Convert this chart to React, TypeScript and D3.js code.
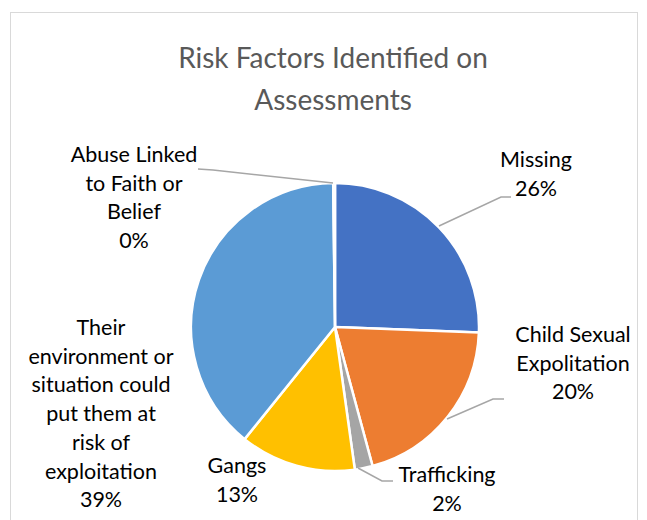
import React, { useEffect, useRef } from 'react';
import * as d3 from 'd3';

// values (share of assessments)
const categories = [
  'Missing',
  'Child Sexual Expolitation',
  'Trafficking',
  'Gangs',
  'Their environment or situation could put them at risk of exploitation',
  'Abuse Linked to Faith or Belief',
];
const values = [25.6, 20.2, 2.0, 13.0, 39.0, 0.2];
const colors = ['#4472C4', '#ED7D31', '#A5A5A5', '#FFC000', '#5B9BD5', '#264478'];

// label text lines (without percent) as they wrap in the original
const labelLines = [
  ['Missing'],
  ['Child Sexual', 'Expolitation'],
  ['Trafficking'],
  ['Gangs'],
  ['Their', 'environment or', 'situation could', 'put them at', 'risk of', 'exploitation'],
  ['Abuse Linked', 'to Faith or', 'Belief'],
];
// label centre x / first baseline y
const labelPos = [
  [536, 167],
  [573, 342],
  [447, 482],
  [237, 473],
  [101, 335],
  [134, 162],
];
// leader lines (null = none)
const leaders = [
  [[439, 226], [501, 197], [511, 197]],
  [[447, 419], [493, 399], [504, 399]],
  [[358, 468], [382, 481], [393, 481]],
  null,
  null,
  [[333, 183], [213, 170], [198, 169]],
];

const App = () => {
  const ref = useRef(null);

  useEffect(() => {
    const svg = d3.select(ref.current);
    svg.selectAll('*').remove();

    const width = 647;
    const height = 520;
    const cx = 335;
    const cy = 327;
    const radius = 144;
    const font = 'Lato, "Open Sans", sans-serif';

    svg.attr('width', width).attr('height', height);

    svg.append('rect')
      .attr('x', 10.5)
      .attr('y', 12.5)
      .attr('width', 627)
      .attr('height', 530)
      .attr('fill', '#fff')
      .attr('stroke', '#D9D9D9');

    svg.append('text')
      .attr('x', 333)
      .attr('y', 68)
      .attr('text-anchor', 'middle')
      .attr('fill', '#595959')
      .style('font-family', font)
      .style('font-size', '28px')
      .text('Risk Factors Identified on');

    svg.append('text')
      .attr('x', 333)
      .attr('y', 110)
      .attr('text-anchor', 'middle')
      .attr('fill', '#595959')
      .style('font-family', font)
      .style('font-size', '28px')
      .text('Assessments');

    const total = d3.sum(values);
    const pie = d3.pie().sort(null).value(d => d);
    const arc = d3.arc().innerRadius(0).outerRadius(radius);

    svg.append('g')
      .attr('transform', `translate(${cx},${cy})`)
      .selectAll('path')
      .data(pie(values))
      .enter()
      .append('path')
      .attr('d', arc)
      .attr('fill', (d, i) => colors[i])
      .attr('stroke', '#fff')
      .attr('stroke-width', 2.5)
      .attr('stroke-linejoin', 'round');

    const line = d3.line();
    leaders.forEach(pts => {
      if (!pts) return;
      svg.append('path')
        .attr('d', line(pts))
        .attr('fill', 'none')
        .attr('stroke', '#A6A6A6')
        .attr('stroke-width', 1.5);
    });

    categories.forEach((c, i) => {
      const lines = [...labelLines[i], `${Math.round(values[i] / total * 100)}%`];
      const t = svg.append('text')
        .attr('text-anchor', 'middle')
        .attr('fill', '#000')
        .style('font-family', font)
        .style('font-size', '21.5px');
      lines.forEach((l, j) => {
        t.append('tspan')
          .attr('x', labelPos[i][0])
          .attr('y', labelPos[i][1] + j * 28.7)
          .text(l);
      });
    });
  }, []);

  return (
    <svg ref={ref} style={{ position: 'absolute', left: 0, top: 0 }}></svg>
  );
};

export default App;
